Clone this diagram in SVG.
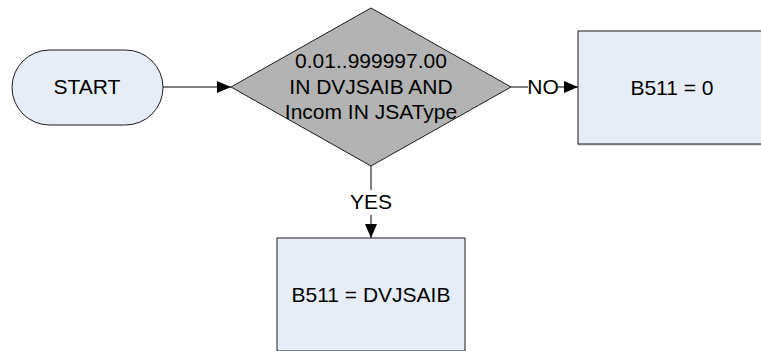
<svg xmlns="http://www.w3.org/2000/svg" width="761" height="351" viewBox="0 0 761 351">
<defs>
<style>
.box{fill:#E7EDF7;stroke:#1a1a1a;stroke-width:1}
.dec{fill:#B3B3B3;stroke:#1a1a1a;stroke-width:1}
.t{font-family:"Liberation Sans",Arial,sans-serif;font-size:21px;fill:#000;text-anchor:middle}
.ln{stroke:#000;stroke-width:1;fill:none}
</style>
<marker id="ah" viewBox="0 0 14 12" refX="14" refY="6" markerWidth="14" markerHeight="12" markerUnits="userSpaceOnUse" orient="auto">
<path d="M0,0 L14,6 L0,12 Z" fill="#000"/>
</marker>
</defs>
<rect width="761" height="351" fill="#fff"/>
<g id="connectors">
<line class="ln" x1="163" y1="87" x2="231" y2="87" marker-end="url(#ah)"/>
<line class="ln" x1="511" y1="87" x2="528" y2="87"/>
<line class="ln" x1="558" y1="87" x2="578" y2="87" marker-end="url(#ah)"/>
<text class="t" x="543" y="94">NO</text>
<line class="ln" x1="371" y1="166" x2="371" y2="190"/>
<line class="ln" x1="371" y1="215" x2="371" y2="238" marker-end="url(#ah)"/>
<text class="t" x="371" y="209">YES</text>
</g>
<g id="start">
<rect class="box" x="12" y="50" width="151" height="75" rx="37.5" ry="37.5"/>
<text class="t" x="87" y="94">START</text>
</g>
<g id="decision">
<polygon class="dec" points="231,87 371,8 511,87 371,166"/>
<text class="t" x="371" y="68">0.01..999997.00</text>
<text class="t" x="371" y="94">IN DVJSAIB AND</text>
<text class="t" x="371" y="119">Incom IN JSAType</text>
</g>
<g id="no-box">
<rect class="box" x="578" y="31" width="188" height="113"/>
<line x1="578" y1="144.5" x2="766" y2="144.5" stroke="#777" stroke-width="1.5"/>
<text class="t" x="672" y="95">B511 = 0</text>
</g>
<g id="yes-box">
<rect class="box" x="277" y="238" width="188" height="113"/>
<text class="t" x="371" y="302">B511 = DVJSAIB</text>
</g>
</svg>
